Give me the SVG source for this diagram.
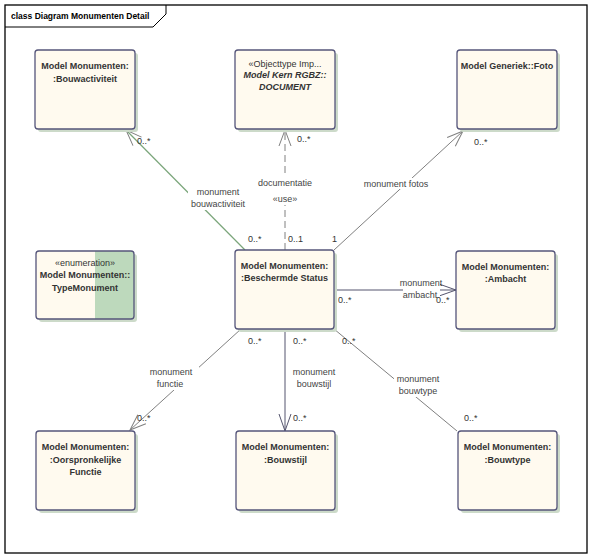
<svg xmlns="http://www.w3.org/2000/svg" width="590" height="559" viewBox="0 0 590 559">
<style>
text{font-family:"Liberation Sans",Arial,sans-serif;font-size:9px;fill:#333333}
.nm{font-weight:bold;text-anchor:middle}
.st{text-anchor:middle}
.it{font-style:italic;font-weight:bold;text-anchor:middle}
.lb{text-anchor:middle;fill:#444444}
.mu{fill:#333333}
.box{fill:#fffaef;stroke:#55557a;stroke-width:1.3}
.sh{fill:#ccdac9}
.bg{fill:#ffffff}
.c{fill:none;stroke:#808080;stroke-width:1}
.cg{fill:none;stroke:#7aa57a;stroke-width:1.2}
.cd{fill:none;stroke:#55556e;stroke-width:1}
</style>
<defs>
<marker id="arr" markerUnits="userSpaceOnUse" markerWidth="20" markerHeight="16" refX="0" refY="0" viewBox="-18 -8 20 16" orient="auto" overflow="visible">
<path d="M-16,-6 L0,0 L-16,6" fill="none" stroke="#808080" stroke-width="1"/>
</marker>
<marker id="arrd" markerUnits="userSpaceOnUse" markerWidth="20" markerHeight="16" refX="0" refY="0" viewBox="-18 -8 20 16" orient="auto" overflow="visible">
<path d="M-17,-6 L0,0 L-17,6" fill="none" stroke="#55556e" stroke-width="1"/>
</marker>
</defs>
<rect x="0" y="0" width="590" height="559" fill="#ffffff"/>
<g id="frame">
<rect x="5" y="5" width="582" height="548" fill="none" stroke="#000000" stroke-width="1.3"/>
<path d="M5,27 L153,27 L166,14 L166,5" fill="none" stroke="#000000" stroke-width="1"/>
<text x="11" y="19" style="font-weight:bold;font-size:8.5px;fill:#000000">class Diagram Monumenten Detail</text>
</g>
<g id="connectors">
<line class="cg" x1="245" y1="250" x2="126" y2="130" marker-end="url(#arr)"/>
<line class="c" x1="285" y1="250" x2="285" y2="130" stroke-dasharray="7,4" marker-end="url(#arr)"/>
<line class="c" x1="334" y1="250" x2="463" y2="131" marker-end="url(#arr)"/>
<line class="cd" x1="334" y1="290" x2="456" y2="290" marker-end="url(#arrd)"/>
<line class="c" x1="241" y1="329" x2="130" y2="430" marker-end="url(#arr)"/>
<line class="cd" x1="285" y1="329" x2="285" y2="431" marker-end="url(#arrd)"/>
<line class="c" x1="334" y1="329" x2="457" y2="431"/>
<rect class="bg" x="188" y="186" width="60" height="24"/>
<rect class="bg" x="256" y="177" width="58" height="28"/>
<rect class="bg" x="360" y="178" width="72" height="11"/>
<rect class="bg" x="403" y="278" width="37" height="23"/>
<rect class="bg" x="143" y="367" width="56" height="23"/>
<rect class="bg" x="394" y="374" width="48" height="23"/>
<text class="lb" x="218" y="195">monument</text>
<text class="lb" x="218" y="207">bouwactiviteit</text>
<text class="lb" x="285" y="186">documentatie</text>
<text class="lb" x="285" y="202">«use»</text>
<text class="lb" x="396" y="187">monument fotos</text>
<text class="lb" x="421" y="286">monument</text>
<text class="lb" x="420" y="298">ambacht</text>
<text class="lb" x="171" y="375">monument</text>
<text class="lb" x="170" y="387">functie</text>
<text class="lb" x="314" y="375">monument</text>
<text class="lb" x="314" y="387">bouwstijl</text>
<text class="lb" x="418" y="382">monument</text>
<text class="lb" x="418" y="394">bouwtype</text>
<text class="mu" x="137" y="144">0..*</text>
<text class="mu" x="248" y="242">0..*</text>
<text class="mu" x="297" y="142">0..*</text>
<text class="mu" x="288" y="242">0..1</text>
<text class="mu" x="474" y="145">0..*</text>
<text class="mu" x="332" y="242">1</text>
<text class="mu" x="338" y="303">0..*</text>
<text class="mu" x="436" y="303">0..*</text>
<text class="mu" x="248" y="344">0..*</text>
<text class="mu" x="137" y="421">0..*</text>
<text class="mu" x="293" y="344">0..*</text>
<text class="mu" x="293" y="421">0..*</text>
<text class="mu" x="342" y="344">0..*</text>
<text class="mu" x="464" y="421">0..*</text>
</g>
<g id="bouwactiviteit">
<rect class="sh" x="38" y="53" width="100" height="79" rx="3"/>
<rect class="box" x="35" y="50" width="100" height="79" rx="3"/>
<text class="nm" x="85" y="69">Model Monumenten:</text>
<text class="nm" x="85" y="81.5">:Bouwactiviteit</text>
</g>
<g id="document">
<rect class="sh" x="238" y="53" width="100" height="79" rx="3"/>
<rect class="box" x="235" y="50" width="100" height="79" rx="3"/>
<text class="st" x="285" y="67">«Objecttype Imp...</text>
<text class="it" x="285" y="78">Model Kern RGBZ::</text>
<text class="it" x="285" y="90">DOCUMENT</text>
</g>
<g id="foto">
<rect class="sh" x="460" y="53" width="100" height="79" rx="3"/>
<rect class="box" x="457" y="50" width="100" height="79" rx="3"/>
<text class="nm" x="507" y="69">Model Generiek::Foto</text>
</g>
<g id="typemonument">
<rect class="sh" x="39" y="254" width="98" height="68" rx="3"/>
<rect x="36" y="251" width="98" height="68" rx="3" fill="#fffaef"/>
<path d="M95,251 L131,251 Q134,251 134,254 L134,316 Q134,319 131,319 L95,319 Z" fill="#bdd9bc"/>
<rect x="36" y="251" width="98" height="68" rx="3" fill="none" stroke="#55557a" stroke-width="1.3"/>
<text class="st" x="85" y="266">«enumeration»</text>
<text class="nm" x="85" y="278">Model Monumenten::</text>
<text class="nm" x="85" y="290.5">TypeMonument</text>
</g>
<g id="beschermdestatus">
<rect class="sh" x="238" y="253" width="99" height="79" rx="3"/>
<rect class="box" x="235" y="250" width="99" height="79" rx="3"/>
<text class="nm" x="284.5" y="269">Model Monumenten:</text>
<text class="nm" x="284.5" y="281">:Beschermde Status</text>
</g>
<g id="ambacht">
<rect class="sh" x="459" y="254" width="99" height="78" rx="3"/>
<rect class="box" x="456" y="251" width="99" height="78" rx="3"/>
<text class="nm" x="505.5" y="270">Model Monumenten:</text>
<text class="nm" x="505.5" y="282">:Ambacht</text>
</g>
<g id="oorspronkelijkefunctie">
<rect class="sh" x="39" y="434" width="99" height="79" rx="3"/>
<rect class="box" x="36" y="431" width="99" height="79" rx="3"/>
<text class="nm" x="85.5" y="450">Model Monumenten:</text>
<text class="nm" x="85.5" y="462.5">:Oorspronkelijke</text>
<text class="nm" x="85.5" y="475">Functie</text>
</g>
<g id="bouwstijl">
<rect class="sh" x="239" y="434" width="99" height="79" rx="3"/>
<rect class="box" x="236" y="431" width="99" height="79" rx="3"/>
<text class="nm" x="285.5" y="450">Model Monumenten:</text>
<text class="nm" x="285.5" y="462.5">:Bouwstijl</text>
</g>
<g id="bouwtype">
<rect class="sh" x="461" y="434" width="99" height="79" rx="3"/>
<rect class="box" x="458" y="431" width="99" height="79" rx="3"/>
<text class="nm" x="507.5" y="450">Model Monumenten:</text>
<text class="nm" x="507.5" y="462.5">:Bouwtype</text>
</g>
</svg>
